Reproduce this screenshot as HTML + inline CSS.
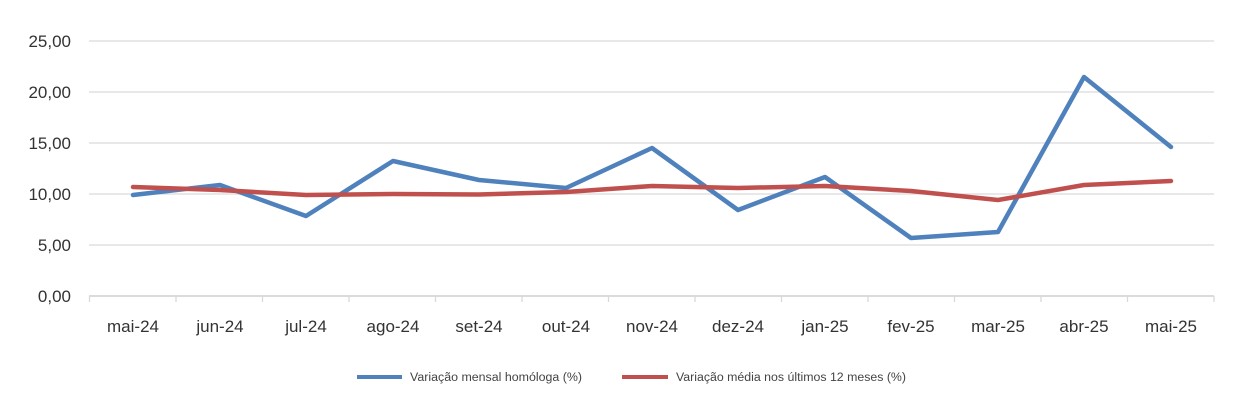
<!DOCTYPE html>
<html><head><meta charset="utf-8"><style>
html,body{margin:0;padding:0;background:#fff;}
svg{display:block;font-family:"Liberation Sans",sans-serif;}
</style></head><body>
<svg width="1244" height="415" viewBox="0 0 1244 415" xmlns="http://www.w3.org/2000/svg">
<g stroke="#d9d9d9" stroke-width="1.3">
<line x1="89" y1="41" x2="1214" y2="41"/>
<line x1="89" y1="92" x2="1214" y2="92"/>
<line x1="89" y1="143" x2="1214" y2="143"/>
<line x1="89" y1="194" x2="1214" y2="194"/>
<line x1="89" y1="245" x2="1214" y2="245"/>
<line x1="89" y1="296" x2="1214" y2="296" stroke="#cfcfcf" stroke-width="1.6"/>
<line x1="89.5" y1="296" x2="89.5" y2="302"/><line x1="176" y1="296" x2="176" y2="302"/><line x1="262.5" y1="296" x2="262.5" y2="302"/><line x1="349" y1="296" x2="349" y2="302"/><line x1="435.5" y1="296" x2="435.5" y2="302"/><line x1="522" y1="296" x2="522" y2="302"/><line x1="608.5" y1="296" x2="608.5" y2="302"/><line x1="695" y1="296" x2="695" y2="302"/><line x1="781.5" y1="296" x2="781.5" y2="302"/><line x1="868" y1="296" x2="868" y2="302"/><line x1="954.5" y1="296" x2="954.5" y2="302"/><line x1="1041" y1="296" x2="1041" y2="302"/><line x1="1127.5" y1="296" x2="1127.5" y2="302"/><line x1="1214" y1="296" x2="1214" y2="302"/>
</g>
<g fill="#333" font-size="17" text-anchor="end">
<text x="71" y="47">25,00</text><text x="71" y="98">20,00</text><text x="71" y="149">15,00</text><text x="71" y="200">10,00</text><text x="71" y="251">5,00</text><text x="71" y="302">0,00</text>
</g>
<g fill="#333" font-size="17" text-anchor="middle">
<text x="133" y="332">mai-24</text><text x="220" y="332">jun-24</text><text x="306" y="332">jul-24</text><text x="393" y="332">ago-24</text><text x="479" y="332">set-24</text><text x="566" y="332">out-24</text><text x="652" y="332">nov-24</text><text x="738" y="332">dez-24</text><text x="825" y="332">jan-25</text><text x="911" y="332">fev-25</text><text x="998" y="332">mar-25</text><text x="1084" y="332">abr-25</text><text x="1171" y="332">mai-25</text>
</g>
<polyline fill="none" stroke="#4f81bd" stroke-width="4.5" stroke-linejoin="round" stroke-linecap="round" points="133,195 220,185 306,216 393,161 479,180 566,188 652,148 738,210 825,177 911,238 998,232 1084,77 1171,147"/>
<polyline fill="none" stroke="#c0504d" stroke-width="4.5" stroke-linejoin="round" stroke-linecap="round" points="133,187 220,190 306,195 393,194 479,194.5 566,192 652,186 738,188 825,186 911,191 998,200 1084,185 1171,181"/>
<line x1="357" y1="377" x2="402" y2="377" stroke="#4f81bd" stroke-width="4"/>
<text x="410" y="381" font-size="11.5" fill="#444" textLength="172" lengthAdjust="spacingAndGlyphs">Variação mensal homóloga (%)</text>
<line x1="622" y1="377" x2="668" y2="377" stroke="#c0504d" stroke-width="4"/>
<text x="676" y="381" font-size="11.5" fill="#444" textLength="230" lengthAdjust="spacingAndGlyphs">Variação média nos últimos 12 meses (%)</text>
</svg>
</body></html>
